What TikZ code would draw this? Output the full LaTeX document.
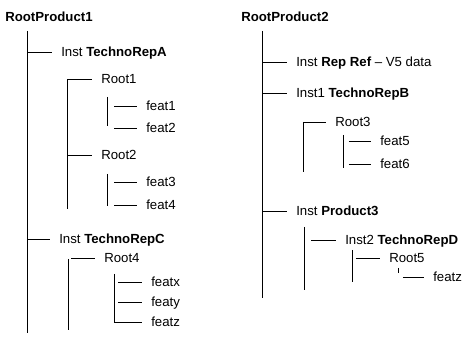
\documentclass[tikz,border=0pt]{standalone}
\usepackage{fontspec}
\setmainfont{Liberation Sans}
\usepackage{tikz}

\begin{document}
\begin{tikzpicture}[
    item/.style={anchor=west, inner xsep=0.225cm, inner ysep=0pt,
                 text height=6.7pt, text depth=0pt, font=\fontsize{9.4}{11}\selectfont},
    top/.style={item, inner xsep=0pt, font=\fontsize{9.4}{11}\selectfont\bfseries},
    branch/.style={line width=0.7pt}
  ]
  \useasboundingbox (0,0) rectangle (11.85,-8.5);

  % RootProduct1
  \node[top]  (rp1)   at (0.125,-0.425) {RootProduct1};
  \node[item] (instA) at (1.3,-1.3)     {Inst \textbf{TechnoRepA}};
  \node[item] (root1) at (2.3,-1.975)   {Root1};
  \node[item] (feat1) at (3.425,-2.65)  {feat1};
  \node[item] (feat2) at (3.425,-3.2)   {feat2};
  \node[item] (root2) at (2.3,-3.875)   {Root2};
  \node[item] (feat3) at (3.425,-4.55)  {feat3};
  \node[item] (feat4) at (3.425,-5.125) {feat4};
  \node[item] (instC) at (1.25,-5.975)  {Inst \textbf{TechnoRepC}};
  \node[item] (root4) at (2.375,-6.45)  {Root4};
  \node[item] (featx) at (3.55,-7.05)   {featx};
  \node[item] (featy) at (3.55,-7.55)   {featy};
  \node[item] (featz) at (3.55,-8.05)   {featz};

  \coordinate (t0a) at (0.675,-0.775);  \coordinate (t0b) at (0.675,-8.325);
  \coordinate (tAa) at (1.675,-2.0);    \coordinate (tAb) at (1.675,-5.225);
  \coordinate (t1a) at (2.675,-2.425);  \coordinate (t1b) at (2.675,-3.15);
  \coordinate (t2a) at (2.675,-4.35);   \coordinate (t2b) at (2.675,-5.15);
  \coordinate (tCa) at (1.71,-6.475);   \coordinate (tCb) at (1.71,-8.25);
  \coordinate (t4a) at (2.85,-6.85);    \coordinate (t4b) at (2.85,-8.05);

  \foreach \a/\b in {t0a/t0b, tAa/tAb, t1a/t1b, t2a/t2b, tCa/tCb, t4a/t4b}
    \draw[branch] (\a) -- (\b);
  \foreach \n in {instA, instC}
    \draw[branch] (t0a |- \n.west) -- (\n.west);
  \foreach \n in {root1, root2}
    \draw[branch] (tAa |- \n.west) -- (\n.west);
  \foreach \n in {feat1, feat2}
    \draw[branch] ([xshift=0.175cm]t1a |- \n.west) -- (\n.west);
  \foreach \n in {feat3, feat4}
    \draw[branch] ([xshift=0.175cm]t2a |- \n.west) -- (\n.west);
  \draw[branch] ([xshift=0.075cm]tCa |- root4.west) -- (root4.west);
  \foreach \n in {featx, featy}
    \draw[branch] ([xshift=0.1cm]t4a |- \n.west) -- (\n.west);
  \draw[branch] (t4a |- featz.west) -- (featz.west);

  % RootProduct2
  \node[top]  (rp2)    at (6.025,-0.425) {RootProduct2};
  \node[item] (repref) at (7.175,-1.55)  {Inst \textbf{Rep Ref} – V5 data};
  \node[item] (instB)  at (7.175,-2.325) {Inst1 \textbf{TechnoRepB}};
  \node[item] (root3)  at (8.15,-3.05)   {Root3};
  \node[item] (feat5)  at (9.275,-3.525) {feat5};
  \node[item] (feat6)  at (9.275,-4.1)   {feat6};
  \node[item] (prod3)  at (7.175,-5.275) {Inst \textbf{Product3}};
  \node[item] (instD)  at (8.4,-6.0)     {Inst2 \textbf{TechnoRepD}};
  \node[item] (root5)  at (9.5,-6.45)    {Root5};
  \node[item] (featz2) at (10.6,-6.925)  {featz};

  \coordinate (r0a) at (6.56,-0.775);   \coordinate (r0b) at (6.56,-7.45);
  \coordinate (tBa) at (7.575,-3.05);   \coordinate (tBb) at (7.575,-4.3);
  \coordinate (t3a) at (8.575,-3.375);  \coordinate (t3b) at (8.575,-4.2);
  \coordinate (tPa) at (7.6,-5.675);    \coordinate (tPb) at (7.6,-7.25);
  \coordinate (tDa) at (8.8,-6.25);     \coordinate (tDb) at (8.8,-7.05);
  \coordinate (t5a) at (9.95,-6.7);     \coordinate (t5b) at (9.95,-6.825);

  \foreach \a/\b in {r0a/r0b, tBa/tBb, t3a/t3b, tPa/tPb, tDa/tDb, t5a/t5b}
    \draw[branch] (\a) -- (\b);
  \foreach \n in {repref, instB, prod3}
    \draw[branch] (r0a |- \n.west) -- (\n.west);
  \draw[branch] (tBa |- root3.west) -- (root3.west);
  \foreach \n in {feat5, feat6}
    \draw[branch] ([xshift=0.15cm]t3a |- \n.west) -- (\n.west);
  \draw[branch] ([xshift=0.175cm]tPa |- instD.west) -- (instD.west);
  \draw[branch] ([xshift=0.1cm]tDa |- root5.west) -- (root5.west);
  \draw[branch] ([xshift=0.125cm]t5a |- featz2.west) -- (featz2.west);
\end{tikzpicture}
\end{document}
